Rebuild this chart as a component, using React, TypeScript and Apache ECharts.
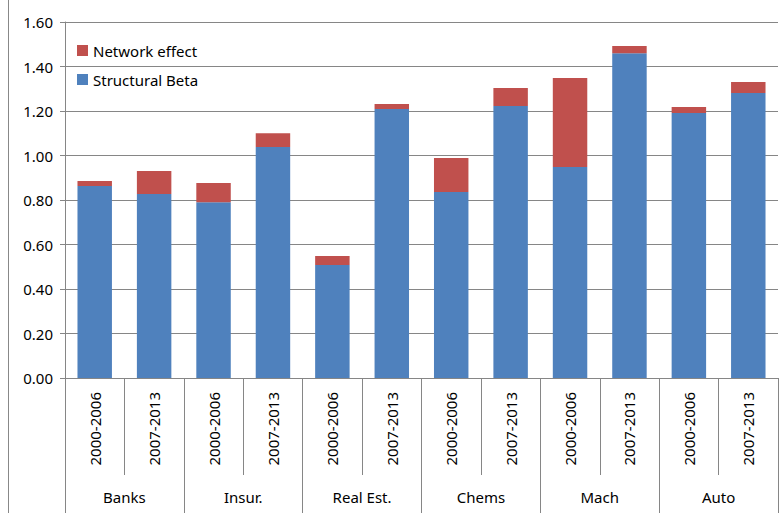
import React, { useEffect, useRef } from "react";
import * as echarts from "echarts";

const periods = ["2000-2006", "2007-2013"];
const sectors = ["Banks", "Insur.", "Real Est.", "Chems", "Mach", "Auto"];
const structuralBeta = [0.863, 0.827, 0.79, 1.038, 0.508, 1.209, 0.836, 1.222, 0.948, 1.46, 1.191, 1.281];
const networkEffect = [0.022, 0.103, 0.086, 0.062, 0.04, 0.022, 0.153, 0.081, 0.4, 0.032, 0.027, 0.049];

export default function App() {
  const ref = useRef<HTMLDivElement>(null);
  useEffect(() => {
    document.body.style.margin = "0";
    const chart = echarts.init(ref.current!, null, { renderer: "svg" });
    const cats = sectors.flatMap(() => periods);
    const font = "'Noto Sans', sans-serif";
    chart.setOption({
      animation: false,
      textStyle: { fontFamily: font },
      graphic: [{ type: "rect", shape: { x: 8.5, y: -2, width: 800, height: 600 }, style: { fill: "none", stroke: "#888", lineWidth: 1 } }],
      legend: {
        left: 72, top: 38, orient: "vertical", itemWidth: 11, itemHeight: 11, itemGap: 14,
        textStyle: { fontSize: 15, color: "#000", fontFamily: font },
        data: [{ name: "Network effect", icon: "rect" }, { name: "Structural Beta", icon: "rect" }],
      },
      grid: { left: 65, right: 1, top: 22, bottom: 135 },
      xAxis: [
        {
          type: "category", data: cats,
          axisLine: { show: true, lineStyle: { color: "#868686" } },
          axisTick: { show: true, interval: 0, length: 97, lineStyle: { color: "#868686" } },
          axisLabel: { interval: 0, rotate: 90, fontSize: 15, color: "#000", margin: 14, fontFamily: font },
        },
        {
          type: "category", data: sectors, position: "bottom", offset: 97,
          axisLine: { show: false },
          axisTick: { show: true, interval: 0, length: 40, lineStyle: { color: "#868686" } },
          axisLabel: { interval: 0, fontSize: 15, color: "#000", margin: 14, fontFamily: font },
        },
      ],
      yAxis: {
        type: "value", min: 0, max: 1.6, interval: 0.2,
        axisLine: { show: true, lineStyle: { color: "#868686" } },
        axisTick: { show: true, length: 5, lineStyle: { color: "#868686" } },
        splitLine: { lineStyle: { color: "#868686" } },
        axisLabel: { fontSize: 15, color: "#000", margin: 12, fontFamily: font, formatter: (v: number) => v.toFixed(2) },
      },
      series: [
        { name: "Structural Beta", type: "bar", stack: "a", barWidth: "58%", data: structuralBeta, itemStyle: { color: "#4F81BD" }, xAxisIndex: 0 },
        { name: "Network effect", type: "bar", stack: "a", data: networkEffect, itemStyle: { color: "#C0504D" }, xAxisIndex: 0 },
      ],
    });
    return () => chart.dispose();
  }, []);
  return <div ref={ref} style={{ width: 779, height: 513 }} />;
}
